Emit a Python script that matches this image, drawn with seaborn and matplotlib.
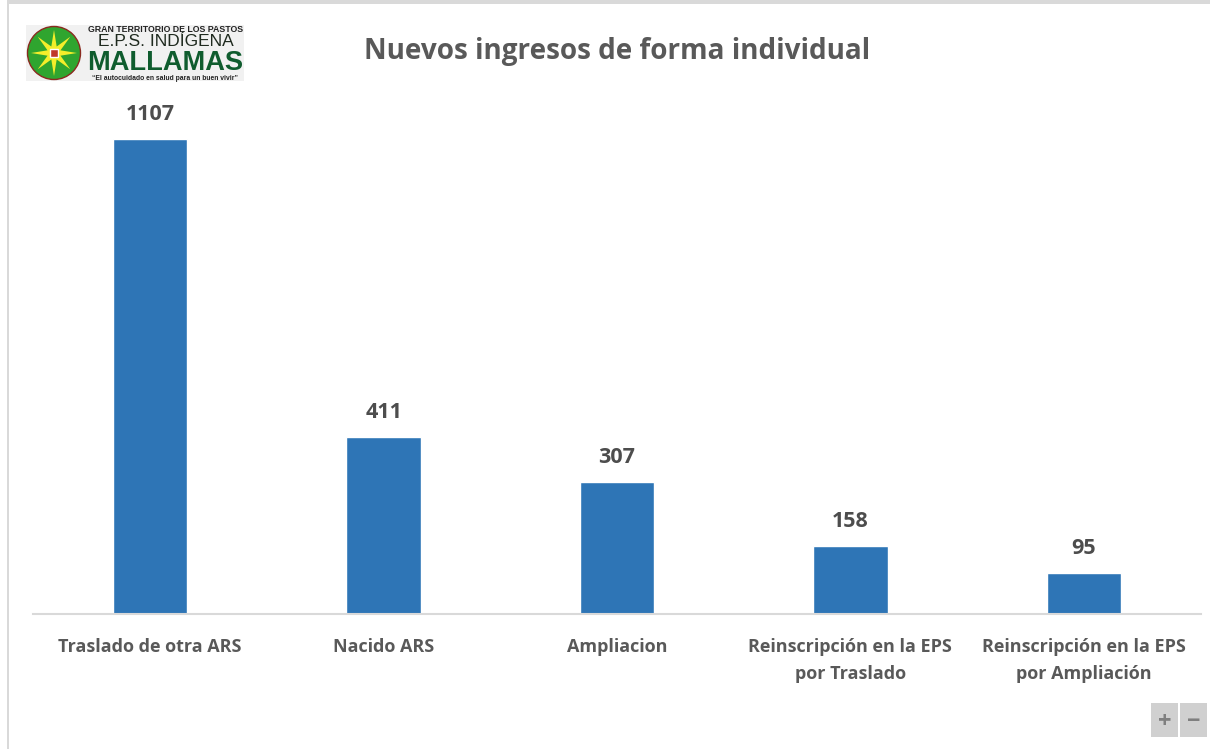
import matplotlib
matplotlib.use("Agg")
import matplotlib.pyplot as plt
from matplotlib.patches import Circle, Polygon, Rectangle
import numpy as np
import pandas as pd
import seaborn as sns

categories = ["Traslado de otra ARS", "Nacido ARS", "Ampliacion",
              "Reinscripción en la EPS\npor Traslado", "Reinscripción en la EPS\npor Ampliación"]
values = [1107, 411, 307, 158, 95]
title = "Nuevos ingresos de forma individual"

W, H = 1210, 749
sns.set_theme(style="white")
plt.rcParams["font.family"] = ["Open Sans", "DejaVu Sans"]
fig = plt.figure(figsize=(W / 100, H / 100), dpi=100, facecolor="white")

def rect(x0, y0, x1, y1):
    return [x0 / W, 1 - y1 / H, (x1 - x0) / W, (y1 - y0) / H]

# window frame
frame = fig.add_axes([0, 0, 1, 1], zorder=0)
frame.set_xlim(0, W); frame.set_ylim(H, 0); frame.axis("off")
frame.add_patch(Rectangle((7, 0), W, 3.5, color="#d9d9d9", lw=0))
frame.add_patch(Rectangle((7, 0), 2, H, color="#d9d9d9", lw=0))

# chart
ax = fig.add_axes(rect(33.5, 92, 1200.5, 613.5), zorder=1)
ax.patch.set_alpha(0)
df = pd.DataFrame({"cat": categories, "val": values})
sns.barplot(data=df, x="cat", y="val", color="#2E75B6", saturation=1, width=0.318, ax=ax)
ax.set_ylim(0, 1107 * 521.5 / 475)
ax.set_xlim(-0.5, 4.5)
ax.set_xlabel(""); ax.set_ylabel("")
ax.set_yticks([])
for s in ["top", "left", "right"]:
    ax.spines[s].set_visible(False)
ax.spines["bottom"].set_color("#d9d9d9")
ax.spines["bottom"].set_linewidth(1.5)
ax.tick_params(axis="x", length=0, pad=17.5)
for lab in ax.get_xticklabels():
    lab.set_fontsize(13); lab.set_color("#595959"); lab.set_fontweight("bold")
    lab.set_linespacing(1.65)
for c in ax.containers:
    ax.bar_label(c, padding=10, fontsize=15.5, fontweight="bold", color="#4d4d4d")

fig.text(617.5 / W, 1 - 51 / H, title, ha="center", va="center", fontsize=20.1,
         fontweight="bold", color="#595959")

# logo
logo = fig.add_axes(rect(26, 25, 244, 81), zorder=2)
logo.set_xlim(26, 244); logo.set_ylim(81, 25); logo.axis("off")
logo.add_patch(Rectangle((26, 25), 218, 56, color="#f1f1f1", lw=0))
logo.add_patch(Circle((54, 53), 26.5, facecolor="#2fa52f", edgecolor="#8a2a20", lw=1))
pts = []
for i in range(16):
    a = np.pi / 8 * i
    r = 23 if i % 2 == 0 else 7
    pts.append((54 + r * np.cos(a), 53 + r * np.sin(a)))
logo.add_patch(Polygon(pts, color="#f4ee2a", lw=0))
logo.add_patch(Rectangle((50, 49), 8, 8, facecolor="#c0392b", edgecolor="white", lw=1))
logo.text(165.5, 30, "GRAN TERRITORIO DE LOS PASTOS", ha="center", va="center", fontsize=6.3,
          fontweight="bold", color="#222222", family="Liberation Sans")
logo.text(165.5, 41.5, "E.P.S. INDÍGENA", ha="center", va="center", fontsize=12.5,
          color="#1f2a1f", family="Liberation Sans")
logo.text(165.5, 62.5, "MALLAMAS", ha="center", va="center", fontsize=19.6, fontweight="bold",
          color="#0f5c2e", family="Liberation Sans")
logo.text(165.5, 78, "“El autocuidado en salud para un buen vivir”", ha="center", va="center",
          fontsize=4.9, fontweight="bold", color="#222222", family="Liberation Sans")

# zoom buttons
frame.set_zorder(3)
for x0, x1, s in [(1151, 1178, "+"), (1180, 1207, "−")]:
    frame.add_patch(Rectangle((x0, 703), x1 - x0, 34, color="#d0d0d0", lw=0))
    frame.text((x0 + x1) / 2, 722, s, ha="center", va="center", fontsize=17,
               fontweight="bold", color="#7f7f7f")

fig.savefig("out.png", dpi=100)
